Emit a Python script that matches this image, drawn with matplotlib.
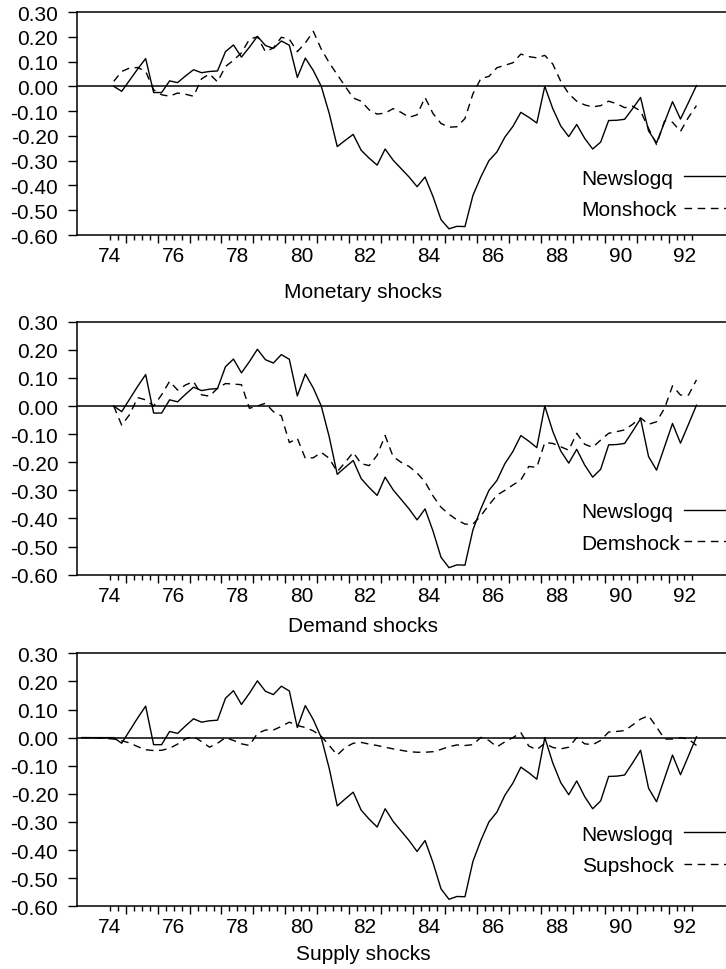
import numpy as np
import matplotlib
matplotlib.use("Agg")
import matplotlib.pyplot as plt
from matplotlib.ticker import FuncFormatter

plt.rcParams['font.family'] = ['Liberation Sans', 'DejaVu Sans']

# quarterly data, 1974Q3 .. 1992Q4
start_year, start_q = 74, 3

newslogq = [0.000, -0.020, 0.025, 0.070, 0.112, -0.025, -0.025, 0.022, 0.015, 0.042,
            0.067, 0.055, 0.060, 0.062, 0.140, 0.167, 0.118, 0.158, 0.202, 0.165,
            0.153, 0.183, 0.166, 0.036, 0.114, 0.064, 0.000, -0.110, -0.243, -0.218,
            -0.194, -0.258, -0.290, -0.318, -0.253, -0.298, -0.332, -0.366, -0.405, -0.366,
            -0.445, -0.538, -0.575, -0.565, -0.566, -0.440, -0.365, -0.300, -0.265, -0.205,
            -0.162, -0.105, -0.125, -0.148, 0.000, -0.090, -0.160, -0.203, -0.154, -0.210,
            -0.253, -0.225, -0.138, -0.137, -0.133, -0.090, -0.045, -0.180, -0.228, -0.145,
            -0.062, -0.132, -0.065, 0.003]

monshock = [0.020, 0.060, 0.074, 0.076, 0.060, -0.014, -0.034, -0.040, -0.027, -0.032,
            -0.040, 0.030, 0.050, 0.018, 0.080, 0.105, 0.135, 0.190, 0.200, 0.140,
            0.155, 0.198, 0.190, 0.140, 0.175, 0.222, 0.150, 0.095, 0.047, 0.000,
            -0.047, -0.060, -0.095, -0.112, -0.108, -0.090, -0.105, -0.125, -0.115, -0.045,
            -0.110, -0.150, -0.165, -0.163, -0.130, -0.030, 0.032, 0.040, 0.075, 0.085,
            0.095, 0.130, 0.120, 0.115, 0.125, 0.090, 0.020, -0.030, -0.060, -0.075,
            -0.083, -0.078, -0.060, -0.070, -0.086, -0.080, -0.100, -0.170, -0.235, -0.140,
            -0.145, -0.182, -0.125, -0.078]

demshock = [0.000, -0.068, -0.030, 0.030, 0.022, 0.000, 0.040, 0.088, 0.057, 0.075,
            0.087, 0.040, 0.035, 0.063, 0.080, 0.078, 0.076, -0.008, 0.000, 0.010,
            -0.020, -0.035, -0.130, -0.115, -0.186, -0.184, -0.165, -0.186, -0.234, -0.200,
            -0.165, -0.205, -0.212, -0.175, -0.105, -0.180, -0.200, -0.215, -0.238, -0.270,
            -0.320, -0.360, -0.385, -0.405, -0.420, -0.420, -0.390, -0.352, -0.317, -0.300,
            -0.281, -0.263, -0.215, -0.218, -0.130, -0.133, -0.145, -0.157, -0.097, -0.136,
            -0.147, -0.121, -0.097, -0.091, -0.085, -0.065, -0.042, -0.065, -0.056, -0.008,
            0.072, 0.039, 0.039, 0.093]

supshock = [-0.005, -0.011, -0.019, -0.032, -0.043, -0.046, -0.045, -0.038, -0.023, -0.004,
            0.004, -0.014, -0.034, -0.020, 0.000, -0.010, -0.022, -0.028, 0.015, 0.027,
            0.027, 0.040, 0.055, 0.043, 0.036, 0.024, 0.005, -0.028, -0.062, -0.035,
            -0.020, -0.017, -0.023, -0.028, -0.034, -0.040, -0.045, -0.050, -0.052, -0.052,
            -0.050, -0.042, -0.032, -0.026, -0.028, -0.025, 0.001, -0.010, -0.033, -0.015,
            0.000, 0.018, -0.030, -0.043, -0.020, -0.035, -0.040, -0.034, 0.000, -0.022,
            -0.025, -0.010, 0.020, 0.022, 0.025, 0.045, 0.066, 0.078, 0.038, -0.005,
            -0.005, 0.000, -0.005, -0.028]

# supply panel is drawn from 1973Q3 (flat lead-in)
sup_lead_news = [0.0, 0.0, 0.0, 0.0]
sup_lead_shock = [0.0, 0.0, -0.001, -0.003]

panels = [("Monshock", monshock, "Monetary shocks"),
          ("Demshock", demshock, "Demand shocks"),
          ("Supshock", supshock, "Supply shocks")]

year_labels = [str(y) for y in range(74, 93, 2)]

W, H = 726, 970
fig = plt.figure(figsize=(W / 100, H / 100), dpi=100)

# axes boxes in pixels: (top, bottom)
boxes = [(13, 236), (322.7, 575.7), (654.3, 907.3)]
xlabel_y = [292, 626, 955]
leg_y = [195, 528.5, 851]
left_px, right_px = 77, 726
leg_text_x, leg_handle_x = 581.7, 684


def qtime(n, y0, q0):
    # mid-quarter position in year units
    k = np.arange(n) + (q0 - 1)
    return y0 + k / 4.0 + 0.125


fmt = FuncFormatter(lambda v, p: "%.2f" % (round(v, 2) + 0.0))

for k, (name, shock, title) in enumerate(panels):
    top, bot = boxes[k]
    ax = fig.add_axes([left_px / W, 1 - bot / H, (right_px - left_px) / W, (bot - top) / H])

    if name == "Supshock":
        news = sup_lead_news + newslogq
        sh = sup_lead_shock + shock
        t = qtime(len(news), start_year - 1, start_q)
    else:
        news, sh = newslogq, shock
        t = qtime(len(news), start_year, start_q)

    ax.axhline(0, color="black", lw=1.1)
    l1, = ax.plot(t, news, color="black", lw=1.0)
    l2, = ax.plot(t, sh, color="black", lw=1.0, dashes=(5.5, 4))

    ax.set_xlim(73.475, 93.8)
    ax.set_ylim(-0.6, 0.3)

    ax.set_yticks(np.arange(-0.6, 0.301, 0.1))
    ax.yaxis.set_major_formatter(fmt)
    ax.tick_params(axis="y", direction="out", length=6.5, width=1.0, pad=7, labelsize=15)

    ax.set_xticks(np.arange(75, 93), labels=[])
    ax.set_xticks(np.arange(74.5, 92.8, 0.25), minor=True)
    ax.tick_params(axis="x", which="major", direction="out", length=6, width=1.0)
    ax.tick_params(axis="x", which="minor", direction="out", length=3.5, width=1.0)

    lab = ax.secondary_xaxis("bottom")
    lab.set_xticks(np.arange(74.5, 93, 2.0), labels=year_labels)
    lab.tick_params(length=0, pad=8, labelsize=15)
    lab.spines["bottom"].set_visible(False)

    ax.spines["right"].set_visible(False)
    for s in ("left", "top", "bottom"):
        ax.spines[s].set_linewidth(1.1)

    # legend: names left-aligned, line samples in their own column
    ly = (bot - leg_y[k]) / (bot - top)
    common = dict(loc="center left", frameon=False, fontsize=15, borderpad=0,
                  borderaxespad=0, labelspacing=0.6)
    names = ax.legend([l1, l2], ["Newslogq", name],
                      bbox_to_anchor=((leg_text_x - left_px) / (right_px - left_px), ly),
                      handlelength=0, handletextpad=0, **common)
    for h in names.legend_handles:
        h.set_visible(False)
    ax.add_artist(names)
    ax.legend([l1, l2], [" ", " "],
              bbox_to_anchor=((leg_handle_x - left_px) / (right_px - left_px), ly),
              handlelength=2.4, handletextpad=0, **common)

    fig.text(0.5, 1 - xlabel_y[k] / H, title, ha="center", va="center", fontsize=15)

fig.savefig("out.png", dpi=100)
